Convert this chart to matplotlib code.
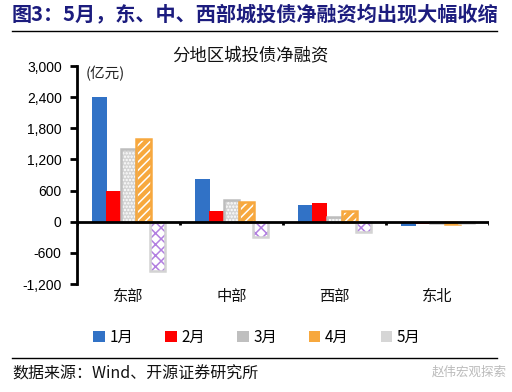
import matplotlib
matplotlib.use("Agg")
import matplotlib.pyplot as plt
from matplotlib.patches import Patch
import numpy as np

plt.rcParams['font.family'] = ['Noto Sans CJK SC', 'DejaVu Sans']
plt.rcParams['hatch.linewidth'] = 1.1

categories = ['东部', '中部', '西部', '东北']
months = ['1月', '2月', '3月', '4月', '5月']
v_jan = [2400, 830, 330, -75]
v_feb = [600, 200, 370, -50]
v_mar = [1400, 420, 100, -20]
v_apr = [1600, 380, 200, -45]
v_may = [-950, -290, -200, -20]
series = [v_jan, v_feb, v_mar, v_apr, v_may]
yticks = [3000, 2400, 1800, 1200, 600, 0, -600, -1200]
ytick_labels = ['3,000', '2,400', '1,800', '1,200', '600', '0', '-600', '-1,200']

W, H = 512, 392
fig = plt.figure(figsize=(W / 100, H / 100), dpi=100)
ax = fig.add_axes([77 / W, 1 - 284 / H, (489 - 77) / W, (284 - 66) / H])

x = np.arange(len(categories))
step = 0.143
width = 0.145
offsets = (np.arange(5) - 2) * step

# styles: (face, hatch, hatch color, outline color, legend color)
styles = [
    ('#3172C6', None, None, '#3172C6', '#3172C6'),
    ('#FF0000', None, None, '#FF0000', '#FF0000'),
    ('#D4D4D4', '.....', 'white', '#BDBDBD', '#BFBFBF'),
    ('#F7A83E', '////', 'white', '#F7A83E', '#F7A83E'),
    ('white', 'xxx', '#B27FE0', '#D3D3D3', '#D6D6D6'),
]

handles = []
for i, (vals, st) in enumerate(zip(series, styles)):
    face, hatch, hcol, ocol, lcol = st
    xs = x + offsets[i]
    if hatch is None:
        ax.bar(xs, vals, width=width, color=face, edgecolor='none', zorder=2)
    else:
        ax.bar(xs, vals, width=width, color=face, edgecolor=hcol, hatch=hatch,
               linewidth=0, zorder=2)
        ax.bar(xs, vals, width=width, fill=False, edgecolor=ocol,
               linewidth=1.8, zorder=3)
    handles.append(Patch(facecolor=lcol, edgecolor='none'))

ax.set_xlim(-0.5, 3.5)
ax.set_ylim(-1200, 3000)
ax.set_yticks(yticks)
ax.set_yticklabels(ytick_labels, family=['Liberation Sans', 'DejaVu Sans'], fontsize=10)
ax.set_xticks([])
for s in ['top', 'right', 'bottom']:
    ax.spines[s].set_visible(False)
ax.spines['left'].set_linewidth(2)
ax.tick_params(axis='y', direction='out', length=5, width=2, pad=6)

# zero axis line with category separators
ax.axhline(0, color='black', linewidth=2, zorder=4)
for b in np.arange(-0.5, 4.0, 1.0):
    ax.plot([b, b], [0, -60], color='black', linewidth=2, zorder=4, solid_capstyle='butt')

for xi, c in zip(x, categories):
    ax.text(xi, -1270, c, ha='center', va='top', fontsize=11, color='#111111')

ax.text(86 / W, 1 - 74 / H, '(亿元)', transform=fig.transFigure, ha='left',
        va='center', fontsize=10.5, color='#222222')

# titles
fig.text(12 / W, 1 - 14 / H, '图3：5月，东、中、西部城投债净融资均出现大幅收缩',
         ha='left', va='center', fontsize=14.5, fontweight='bold', color='#1C1C7E')
fig.add_artist(plt.Line2D([12 / W, 497 / W], [1 - 31 / H, 1 - 31 / H],
                          color='black', linewidth=1))
fig.text(250 / W, 1 - 55 / H, '分地区城投债净融资', ha='center', va='center',
         fontsize=12.5, color='#111111')

# legend
fig.legend(handles, months, loc='center', bbox_to_anchor=(257 / W, 1 - 337 / H),
           ncol=5, frameon=False, fontsize=11, handlelength=0.75, handleheight=0.75,
           handletextpad=0.3, columnspacing=2.1)

fig.add_artist(plt.Line2D([12 / W, 497 / W], [1 - 358 / H, 1 - 358 / H],
                          color='black', linewidth=1))
fig.text(12 / W, 1 - 374 / H, '数据来源：Wind、开源证券研究所', ha='left', va='center',
         fontsize=11.5, color='#111111')
fig.text(432 / W, 1 - 372 / H, '赵伟宏观探索', ha='left', va='center',
         fontsize=9, color='#AAAAAA', alpha=0.8)

fig.savefig('out.png', dpi=100)
